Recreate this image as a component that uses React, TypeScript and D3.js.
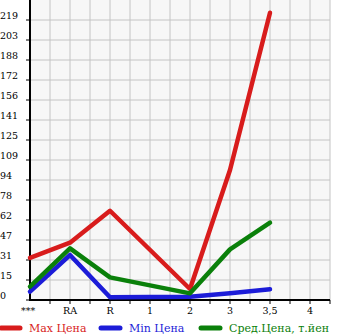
import React from "react";
import * as d3 from "d3";

const categories = ["***", "RA", "R", "1", "2", "3", "3,5", "4"];
const maxPrice: (number | null)[] = [33, 44.8, 69.8, null, 8.6, 101.7, 224.7, null];
const minPrice: (number | null)[] = [6.5, 35.2, 2.1, null, 2.6, 5.2, 8.4, null];
const avgPrice: (number | null)[] = [10.4, 40.4, 17.7, null, 5.2, 39.6, 60.5, null];
const yTickLabels = ["0", "15", "31", "47", "62", "78", "94", "109", "125", "141", "156", "172", "188", "203", "219"];
const seriesNames = ["Max Цена", "Min Цена", "Сред.Цена, т.йен"];
const seriesColors = ["#d81c1c", "#1c1cd8", "#0a800a"];

const W = 345;
const H = 335;
const left = 30;
const right = 330;
const top = 0;
const bottom = 300;
const step = 219 / 14;
const font = "'DejaVu Serif', serif";

export default function App() {
  const x = d3.scalePoint<string>().domain(categories).range([left, left + 280]);
  const y = d3.scaleLinear().domain([0, step * 15]).range([bottom, top]);
  const series = [maxPrice, minPrice, avgPrice];
  const line = d3
    .line<{ c: string; v: number }>()
    .x((d) => x(d.c)!)
    .y((d) => y(d.v));

  const vGrid = d3.range(left + 20, right + 1, 20);
  const hGrid = d3.range(0, 15).map((i) => y(i * step));

  return (
    <svg width={W} height={H} style={{ position: "absolute", left: 0, top: 0 }}>
      <rect x={left} y={top} width={right - left} height={bottom - top} fill="#f7f7f7" />
      {vGrid.map((gx) => (
        <line key={"v" + gx} x1={gx} x2={gx} y1={top} y2={bottom} stroke="#c4c4c4" strokeWidth={1} />
      ))}
      {hGrid.map((gy, i) => (
        <line key={"h" + i} x1={left} x2={right} y1={gy} y2={gy} stroke="#c4c4c4" strokeWidth={1} />
      ))}
      {hGrid.map((gy, i) => (
        <line key={"yt" + i} x1={left - 4} x2={left} y1={gy} y2={gy} stroke="#000" strokeWidth={1} />
      ))}
      {vGrid.map((gx) => (
        <line key={"xt" + gx} x1={gx} x2={gx} y1={bottom} y2={bottom + 4} stroke="#000" strokeWidth={1} />
      ))}
      <line x1={left} x2={left} y1={top} y2={bottom + 1} stroke="#000" strokeWidth={2} />
      <line x1={left} x2={right} y1={bottom} y2={bottom} stroke="#000" strokeWidth={2} />
      {yTickLabels.map((t, i) => (
        <text
          key={"yl" + i}
          x={0}
          y={y(i * step) - 4}
          dy="0.35em"
          fontSize={9.5}
          fontFamily={font}
          fill="#000"
        >
          {t}
        </text>
      ))}
      {categories.map((c) => (
        <text
          key={"xl" + c}
          x={x(c)! - (c === "***" ? 2 : 0)}
          y={311}
          dy="0.35em"
          textAnchor="middle"
          fontSize={9.5}
          fontFamily={font}
          fill="#000"
        >
          {c}
        </text>
      ))}
      {series.map((s, si) => {
        const pts = categories
          .map((c, i) => ({ c, v: s[i] }))
          .filter((d) => d.v !== null) as { c: string; v: number }[];
        return (
          <path
            key={"s" + si}
            d={line(pts) || ""}
            fill="none"
            stroke={seriesColors[si]}
            strokeWidth={4.5}
            strokeLinecap="round"
            strokeLinejoin="round"
          />
        );
      })}
      {seriesNames.map((n, i) => {
        const lx = [0, 100, 200][i];
        return (
          <g key={"lg" + i}>
            <line x1={lx + 1} x2={lx + 20} y1={328} y2={328} stroke={seriesColors[i]} strokeWidth={5} strokeLinecap="round" />
            <text x={lx + 29} y={328} dy="0.35em" fontSize={11} fontFamily={font} fill={seriesColors[i]}>
              {n}
            </text>
          </g>
        );
      })}
    </svg>
  );
}
